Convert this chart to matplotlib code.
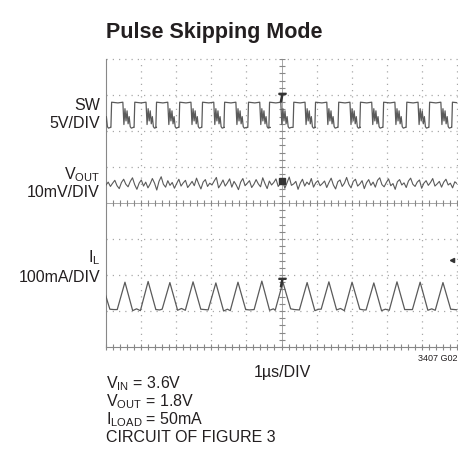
# Pulse Skipping Mode - scope capture recreation
import matplotlib
matplotlib.use('Agg')
import matplotlib.pyplot as plt
import numpy as np

plt.rcParams['font.family'] = ['Liberation Sans', 'DejaVu Sans']
plt.rcParams['mathtext.fontset'] = 'custom'
plt.rcParams['mathtext.rm'] = 'Liberation Sans'

W, H = 458, 449
ink = '#231f20'
trace = '#5a5a5a'

# IL peak times (div)
il_peaks = [-0.11, 0.54, 1.20, 1.82, 2.48, 3.13, 3.76, 4.44, 5.04, 5.73,
            6.35, 7.01, 7.63, 8.29, 8.95, 9.60, 10.25]
il_peak_vals = [-2.25, -2.20, -2.18, -2.21, -2.19, -2.22, -2.20, -2.17, -2.20, -2.21,
                -2.19, -2.20, -2.22, -2.19, -2.20, -2.21, -2.20]
il_base_a = [-2.98, -2.96, -2.99, -2.95, -2.98, -2.97, -2.99, -2.96, -2.98, -2.97,
             -2.95, -2.99, -2.97, -2.98, -2.96, -2.98, -2.97]
il_base_b = [-2.95, -2.99, -2.96, -2.98, -2.95, -3.00, -2.96, -2.98, -2.94, -2.99,
             -2.97, -2.95, -2.99, -2.96, -2.98, -2.95, -2.97]

# SW shape within one switching cycle (offset from IL peak in div, level)
sw_off = [-0.40, -0.38, -0.20, -0.06, -0.03, 0.0, 0.03, 0.06, 0.09, 0.12, 0.15, 0.18, 0.24]
sw_lvl = [2.10, 2.80, 2.78, 2.80, 2.18, 2.62, 2.28, 2.56, 2.20, 2.40, 2.12, 2.08, 2.10]

# VOUT ripple (div), evenly spread across the screen
vout_vals = [0.50, 0.58, 0.46, 0.55, 0.63, 0.48, 0.40, 0.57, 0.66, 0.52,
             0.45, 0.60, 0.70, 0.51, 0.38, 0.55, 0.64, 0.47, 0.58, 0.42,
             0.53, 0.68, 0.55, 0.36, 0.60, 0.73, 0.52, 0.44, 0.62, 0.49,
             0.57, 0.41, 0.54, 0.66, 0.47, 0.56, 0.63, 0.43, 0.51, 0.60,
             0.48, 0.69, 0.53, 0.39, 0.58, 0.65, 0.46, 0.55, 0.50, 0.61,
             0.71, 0.42, 0.52, 0.64, 0.47, 0.56, 0.67, 0.44, 0.60, 0.50,
             0.37, 0.58, 0.68, 0.48, 0.55, 0.62, 0.43, 0.52, 0.65, 0.53,
             0.45, 0.70, 0.54, 0.40, 0.61, 0.50, 0.57, 0.67, 0.46, 0.54,
             0.63, 0.41, 0.56, 0.72, 0.49, 0.53, 0.60, 0.38, 0.55, 0.66,
             0.47, 0.58, 0.51, 0.68, 0.44, 0.56, 0.62, 0.48, 0.54, 0.61,
             0.43, 0.57, 0.69, 0.50, 0.39, 0.59, 0.64, 0.46, 0.55, 0.71,
             0.52, 0.42, 0.60, 0.66, 0.47, 0.53, 0.62, 0.40, 0.56, 0.65,
             0.49, 0.58, 0.44, 0.63, 0.70, 0.51, 0.45, 0.57, 0.67, 0.48,
             0.54, 0.38, 0.59, 0.65, 0.50, 0.56, 0.43, 0.61, 0.69, 0.52,
             0.46, 0.58, 0.64, 0.41, 0.55, 0.62, 0.49, 0.57, 0.68, 0.47,
             0.53, 0.60, 0.44, 0.58, 0.66, 0.50, 0.55, 0.42, 0.59, 0.54]

# build traces
il_x, il_y = [], []
sw_x, sw_y = [], []
for i, p in enumerate(il_peaks):
    il_x += [p - 0.22, p, p + 0.22, p + 0.33]
    il_y += [il_base_a[i], il_peak_vals[i], il_base_b[i], il_base_a[i] + 0.02]
    sw_x += [p + o for o in sw_off]
    sw_y += sw_lvl
vout_x = np.linspace(0, 10, len(vout_vals))

fig = plt.figure(figsize=(W / 100, H / 100), dpi=100)
ax = fig.add_axes([106 / W, 1 - 347 / H, 351 / W, 288 / H])
ax.set_xlim(0, 10)
ax.set_ylim(-4, 4)

# graticule
for gx in range(1, 11):
    if gx != 5:
        ax.axvline(gx, color='#a8a8a8', lw=0.9, ls=(0, (1, 4)), zorder=1, clip_on=False)
for gy in range(-3, 5):
    if gy != 0:
        ax.axhline(gy, color='#a8a8a8', lw=0.9, ls=(0, (1, 4)), zorder=1, clip_on=False)
ax.axvline(5, color='#999999', lw=0.6, zorder=1)
ax.axhline(0, color='#999999', lw=0.6, zorder=1)
mt_x = np.arange(0, 10.01, 0.2)
mt_y = np.arange(-4, 4.01, 0.2)
ax.plot(mt_x, np.zeros_like(mt_x), ls='none', marker='|', ms=4, color='#888888', mew=0.8)
ax.plot(np.full_like(mt_y, 5), mt_y, ls='none', marker='_', ms=4, color='#888888', mew=0.8)
ax.plot(mt_x, np.full_like(mt_x, -4), ls='none', marker='|', ms=5, color='#888888', mew=0.8, clip_on=False)

for s in ['top', 'right']:
    ax.spines[s].set_visible(False)
for s in ['left', 'bottom']:
    ax.spines[s].set_color('#888888')
    ax.spines[s].set_linewidth(0.8)
ax.set_xticks([])
ax.set_yticks([])

# traces
ax.plot(sw_x, sw_y, color=trace, lw=0.9, zorder=3)
ax.plot(vout_x, vout_vals, color=trace, lw=0.8, zorder=3)
ax.plot(il_x, il_y, color=trace, lw=0.9, zorder=3)

# channel markers
ax.plot([5], [0.61], marker='s', ms=4, color='#333333', zorder=4)
ax.plot([5], [2.95], marker='$T$', ms=6, color='#333333', zorder=4)
ax.plot([5], [-2.2], marker='$T$', ms=6, color='#333333', zorder=4)
ax.plot([9.87], [-1.58], marker='<', ms=3, color='#333333', zorder=4, clip_on=False)


def px(x, y):
    return x / W, 1 - y / H


fig.text(*px(106, 38), 'Pulse Skipping Mode', fontsize=15.5, fontweight='bold', color=ink)

lab = dict(fontsize=11.5, color=ink, ha='right', va='baseline')
fig.text(*px(100, 110), 'SW', **lab)
fig.text(*px(100, 128), '5V/DIV', **lab)
fig.text(*px(100, 179), r'V$_{\mathrm{OUT}}$', **lab)
fig.text(*px(100, 197), '10mV/DIV', **lab)
fig.text(*px(100, 262), r'I$_{\mathrm{L}}$', **lab)
fig.text(*px(100, 282), '100mA/DIV', **lab)

fig.text(*px(282, 377), '1µs/DIV', fontsize=11.5, color=ink, ha='center', va='baseline')
fig.text(*px(457, 361), '3407 G02', fontsize=6.5, color=ink, ha='right', va='baseline')

bl = dict(fontsize=11.5, color=ink, ha='left', va='baseline')
fig.text(*px(106, 388), r'V$_{\mathrm{IN}}$ = 3.6V', **bl)
fig.text(*px(106, 406), r'V$_{\mathrm{OUT}}$ = 1.8V', **bl)
fig.text(*px(106, 424), r'I$_{\mathrm{LOAD}}$ = 50mA', **bl)
fig.text(*px(106, 442), 'CIRCUIT OF FIGURE 3', **bl)

fig.savefig('out.png', dpi=100)
